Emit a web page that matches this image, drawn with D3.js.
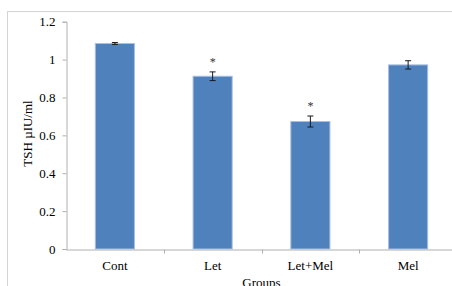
<!DOCTYPE html>
<html lang="en">
<head>
  <meta charset="UTF-8">
  <title>TSH</title>
  <script src="https://cdnjs.cloudflare.com/ajax/libs/d3/7.8.5/d3.min.js"></script>
  <style>
    html, body { margin: 0; padding: 0; background: #fff; }
    svg { display: block; font-family: "Liberation Serif", "Times New Roman", serif; }
    .bar { fill: #4f81bd; stroke: #a7bfdf; stroke-width: 1; }
  </style>
</head>
<body>
  <svg width="452" height="286"></svg>
  <script>
    const groups = ['Cont', 'Let', 'Let+Mel', 'Mel']
    const tsh = [1.085, 0.912, 0.673, 0.972]
    const tshErr = [0.005, 0.023, 0.029, 0.022]
    const marks = ['', '*', '*', '']
    const yTicks = [0, 0.2, 0.4, 0.6, 0.8, 1, 1.2]

    const svg = d3.select('svg')

    // chart frame (runs off the right and bottom edges)
    svg.append('rect')
      .attr('x', 7.5).attr('y', 11.5)
      .attr('width', 470).attr('height', 300)
      .attr('fill', 'none').attr('stroke', '#d4d4d4')

    const x = d3.scaleBand().domain(groups).range([66, 457])
    const y = d3.scaleLinear().domain([0, 1.2]).range([249, 21.7])
    const barW = x.bandwidth() * 0.4

    // y axis
    const yAxis = svg.append('g')
      .attr('transform', 'translate(66.5,0)')
      .call(d3.axisLeft(y).tickValues(yTicks).tickSize(4).tickPadding(7).tickFormat(d => String(d)))
    yAxis.select('.domain').attr('stroke', '#b0b0b0')
    yAxis.selectAll('.tick line').attr('stroke', '#b0b0b0')
    yAxis.selectAll('.tick text').attr('font-size', 13).attr('fill', '#000')
      .attr('font-family', '"Liberation Serif", serif')

    // x axis
    const xAxis = svg.append('g')
      .attr('transform', 'translate(0,249.5)')
      .call(d3.axisBottom(x).tickSize(0).tickPadding(11).tickSizeOuter(0))
    xAxis.select('.domain').attr('stroke', '#b0b0b0')
    xAxis.selectAll('.tick text').attr('font-size', 13).attr('fill', '#000')
      .attr('font-family', '"Liberation Serif", serif')
    xAxis.selectAll('.sep')
      .data(groups.slice(1))
      .enter().append('line')
      .attr('x1', d => Math.round(x(d)) + 0.5).attr('x2', d => Math.round(x(d)) + 0.5)
      .attr('y1', 0).attr('y2', 4)
      .attr('stroke', '#b0b0b0')

    // bars
    svg.selectAll('.bar')
      .data(groups)
      .enter().append('rect')
      .attr('class', 'bar')
      .attr('x', (d, i) => x(d) + (x.bandwidth() - barW) / 2)
      .attr('y', (d, i) => y(tsh[i]))
      .attr('width', barW)
      .attr('height', (d, i) => y(0) - y(tsh[i]))

    // error bars
    const eb = svg.selectAll('.err')
      .data(groups)
      .enter().append('g')
      .attr('class', 'err')
      .attr('stroke', '#1a1a1a')
    eb.append('line')
      .attr('x1', d => x(d) + x.bandwidth() / 2).attr('x2', d => x(d) + x.bandwidth() / 2)
      .attr('y1', (d, i) => y(tsh[i] + tshErr[i])).attr('y2', (d, i) => y(tsh[i] - tshErr[i]))
    eb.append('line')
      .attr('x1', d => x(d) + x.bandwidth() / 2 - 3).attr('x2', d => x(d) + x.bandwidth() / 2 + 3)
      .attr('y1', (d, i) => y(tsh[i] + tshErr[i])).attr('y2', (d, i) => y(tsh[i] + tshErr[i]))
    eb.append('line')
      .attr('x1', d => x(d) + x.bandwidth() / 2 - 3).attr('x2', d => x(d) + x.bandwidth() / 2 + 3)
      .attr('y1', (d, i) => y(tsh[i] - tshErr[i])).attr('y2', (d, i) => y(tsh[i] - tshErr[i]))

    // significance stars
    svg.selectAll('.star')
      .data(groups)
      .enter().append('text')
      .attr('class', 'star')
      .attr('x', d => x(d) + x.bandwidth() / 2)
      .attr('y', (d, i) => y(tsh[i] + tshErr[i]) - 6)
      .attr('text-anchor', 'middle')
      .attr('font-size', 12)
      .attr('fill', '#333')
      .text((d, i) => marks[i])

    // axis titles
    svg.append('text')
      .attr('transform', 'translate(32,133.5) rotate(-90)')
      .attr('text-anchor', 'middle')
      .attr('font-size', 13)
      .text('TSH µIU/ml')

    svg.append('text')
      .attr('x', 261.5)
      .attr('y', 287)
      .attr('text-anchor', 'middle')
      .attr('font-size', 13)
      .text('Groups')
  </script>
</body>
</html>
